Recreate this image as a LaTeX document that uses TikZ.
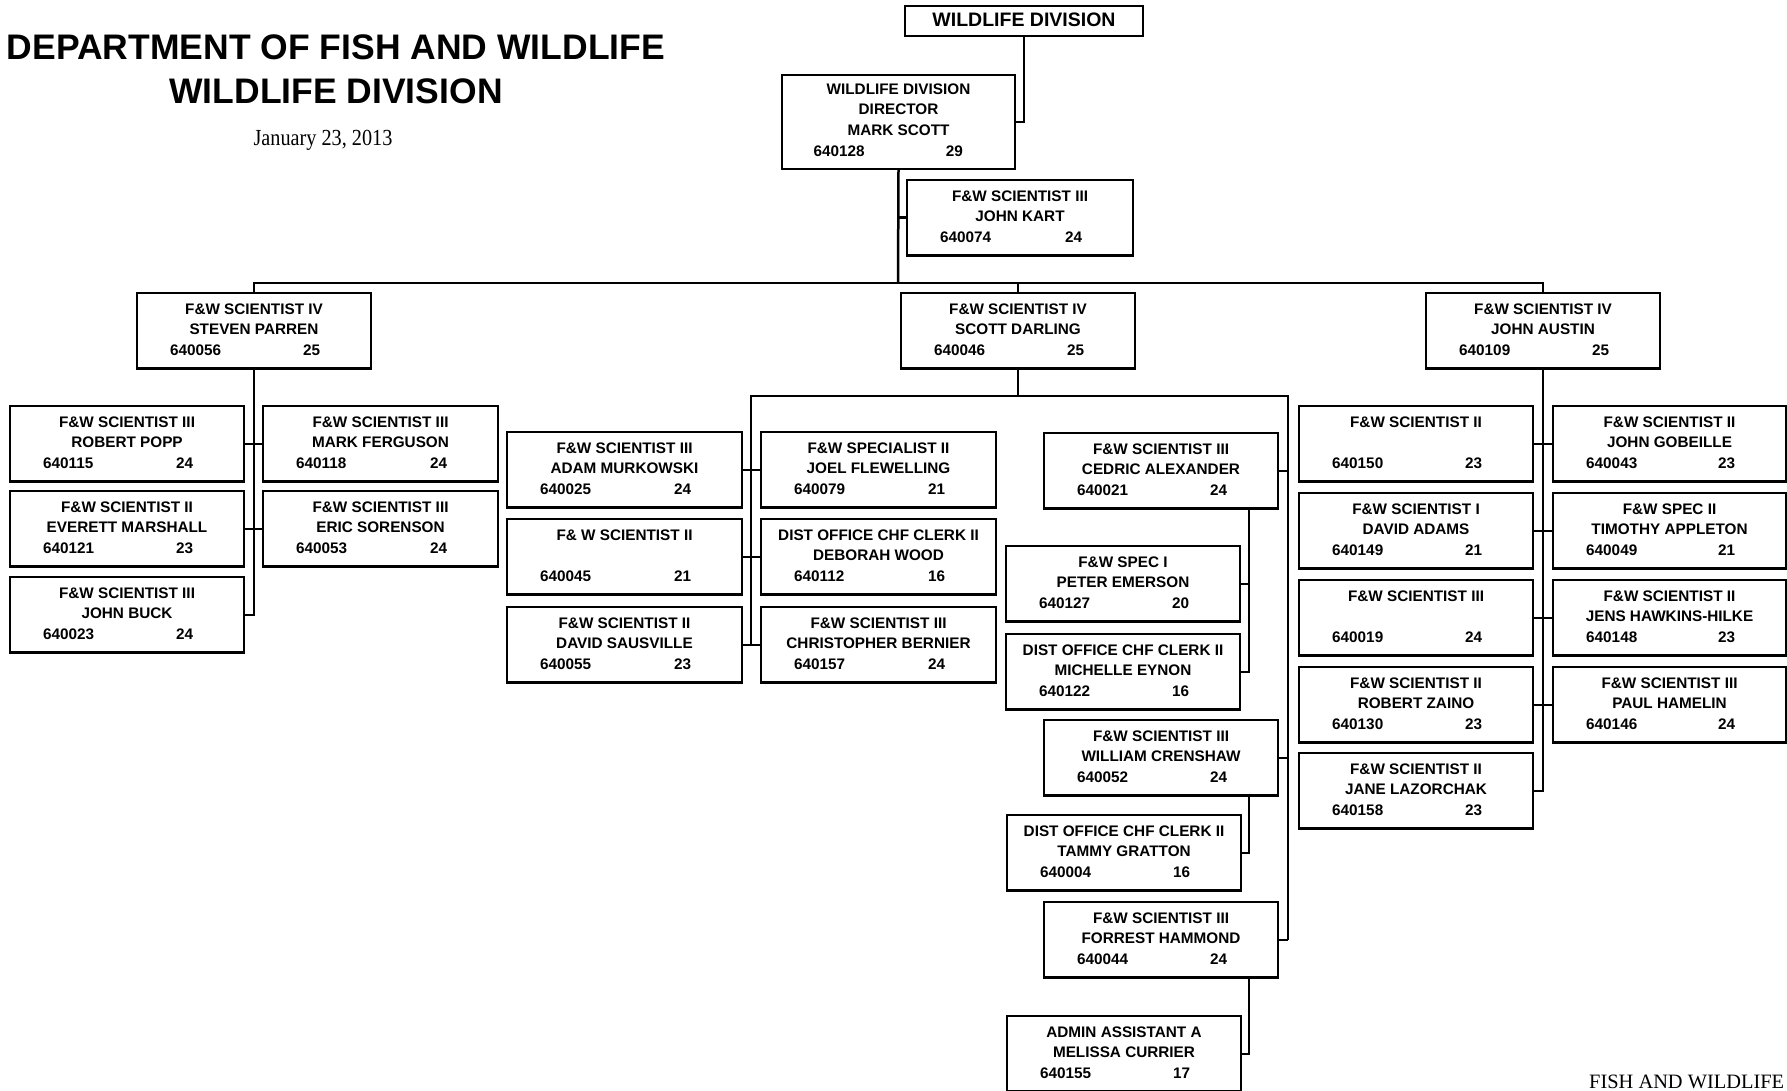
\documentclass[tikz,border=0pt]{standalone}
\usepackage{fontspec}
\setmainfont{Liberation Sans}
\newfontfamily\datefont{Liberation Serif}

\tikzset{
  post/.style={draw,line width=2.3pt,inner sep=0pt,outer sep=0pt,anchor=north west,minimum height=75.5pt},
  txt/.style={inner sep=0pt,anchor=base,font=\fontsize{15.3}{18}\selectfont\bfseries},
  wire/.style={line width=2.5pt},
}

% one position box: name, x, y, width, title, person, number, grade
\newcommand{\jobbox}[8]{%
  \node[post,minimum width=#4pt] (#1) at (#2,#3) {};
  \node[txt] (#1-t) at ([yshift=-21.3pt]#1.north) {#5};
  \node[txt] (#1-n) at ([yshift=-41.7pt]#1.north) {#6};
  \node[txt,anchor=base west] (#1-p) at ([xshift=33pt,yshift=-62.3pt]#1.north west) {#7};
  \node[txt,anchor=base west] (#1-g) at ([xshift=#4pt-68pt,yshift=-62.3pt]#1.north west) {#8};
}

\begin{document}
\begin{tikzpicture}[x=1pt,y=-1pt]
  \useasboundingbox (0,0) rectangle (1787,1091);
  \pgfmathsetmacro\bw{234}   % usual box width

% heading at left
  \node[inner sep=0pt,anchor=base,font=\fontsize{35.5}{40}\selectfont\bfseries] (head) at (336,59.3) {DEPARTMENT OF FISH AND WILDLIFE};
  \node[inner sep=0pt,anchor=base,font=\fontsize{35.5}{40}\selectfont\bfseries] (subhead) at (336,104) {WILDLIFE DIVISION};
  \node[inner sep=0pt,anchor=base,font=\datefont\fontsize{23}{26}\selectfont] (date) at (323,146) {\scalebox{0.88}[1]{January 23, 2013}};
  \node[inner sep=0pt,anchor=base west,font=\datefont\fontsize{20.4}{24}\selectfont] (foot) at (1589,1088.5) {FISH AND WILDLIFE};

% division and director
  \node[post,minimum width=238pt,minimum height=30pt] (division) at (905,6) {};
  \node[inner sep=0pt,anchor=base,font=\fontsize{19.5}{22}\selectfont\bfseries] (division-t) at (1024,26.7) {WILDLIFE DIVISION};
  \node[post,minimum width=233pt,minimum height=94pt] (director) at (782,75) {};
  \node[txt] (director-t) at ([yshift=-20pt]director.north) {WILDLIFE DIVISION};
  \node[txt] (director-u) at ([yshift=-40pt]director.north) {DIRECTOR};
  \node[txt] (director-n) at ([yshift=-61pt]director.north) {MARK SCOTT};
  \node[txt,anchor=base west] (director-p) at ([xshift=31.3pt,yshift=-81.7pt]director.north west) {640128};
  \node[txt,anchor=base west] (director-g) at ([xshift=163.7pt,yshift=-81.7pt]director.north west) {29};
  \jobbox{kart}{907}{180}{226}{F\&W SCIENTIST III}{JOHN KART}{640074}{24}
  \coordinate (bus) at (898,283);

  \draw[wire] (division.south) |- (director.east);
  \draw[wire] (director.south) -- (bus);
  \draw[wire] (kart.west) -- (kart.west -| director.south);

% second level
  \jobbox{parren}{137}{293}{\bw}{F\&W SCIENTIST IV}{STEVEN PARREN}{640056}{25}
  \jobbox{darling}{901}{293}{\bw}{F\&W SCIENTIST IV}{SCOTT DARLING}{640046}{25}
  \jobbox{austin}{1426}{293}{\bw}{F\&W SCIENTIST IV}{JOHN AUSTIN}{640109}{25}
  \draw[wire] (parren.north) -- (parren.north |- bus) -- (austin.north |- bus) -- (austin.north);
  \draw[wire] (darling.north) -- (darling.north |- bus);

% parren group
  \jobbox{popp}{10}{406}{\bw}{F\&W SCIENTIST III}{ROBERT POPP}{640115}{24}
  \jobbox{ferguson}{263}{406}{235}{F\&W SCIENTIST III}{MARK FERGUSON}{640118}{24}
  \jobbox{marshall}{10}{491}{\bw}{F\&W SCIENTIST II}{EVERETT MARSHALL}{640121}{23}
  \jobbox{sorenson}{263}{491}{235}{F\&W SCIENTIST III}{ERIC SORENSON}{640053}{24}
  \jobbox{buck}{10}{577}{\bw}{F\&W SCIENTIST III}{JOHN BUCK}{640023}{24}
  \draw[wire] (parren.south) |- (buck.east);
  \draw[wire] (popp.east) -- (ferguson.west);
  \draw[wire] (marshall.east) -- (sorenson.west);

% darling group, left side
  \coordinate (dl) at (751,396);
  \coordinate (dr) at (1288,396);
  \jobbox{murkowski}{507}{432}{235}{F\&W SCIENTIST III}{ADAM MURKOWSKI}{640025}{24}
  \jobbox{flewelling}{761}{432}{235}{F\&W SPECIALIST II}{JOEL FLEWELLING}{640079}{21}
  \jobbox{vacantA}{507}{519}{235}{F\& W SCIENTIST II}{}{640045}{21}
  \jobbox{wood}{761}{519}{235}{DIST OFFICE CHF CLERK II}{DEBORAH WOOD}{640112}{16}
  \jobbox{sausville}{507}{607}{235}{F\&W SCIENTIST II}{DAVID SAUSVILLE}{640055}{23}
  \jobbox{bernier}{761}{607}{235}{F\&W SCIENTIST III}{CHRISTOPHER BERNIER}{640157}{24}
  \draw[wire] (darling.south) -- (darling.south |- dl);
  \draw[wire] (murkowski.east) -- (flewelling.west);
  \draw[wire] (vacantA.east) -- (wood.west);
  \draw[wire] (sausville.east) -- (bernier.west);

% darling group, right side
  \jobbox{alexander}{1044}{433}{\bw}{F\&W SCIENTIST III}{CEDRIC ALEXANDER}{640021}{24}
  \jobbox{emerson}{1006}{546}{\bw}{F\&W SPEC I}{PETER EMERSON}{640127}{20}
  \jobbox{eynon}{1006}{634}{\bw}{DIST OFFICE CHF CLERK II}{MICHELLE EYNON}{640122}{16}
  \jobbox{crenshaw}{1044}{720}{\bw}{F\&W SCIENTIST III}{WILLIAM CRENSHAW}{640052}{24}
  \jobbox{gratton}{1007}{815}{\bw}{DIST OFFICE CHF CLERK II}{TAMMY GRATTON}{640004}{16}
  \jobbox{hammond}{1044}{902}{\bw}{F\&W SCIENTIST III}{FORREST HAMMOND}{640044}{24}
  \jobbox{currier}{1007}{1016}{\bw}{ADMIN ASSISTANT A}{MELISSA CURRIER}{640155}{17}
  \draw[wire] (dl |- sausville.east) -- (dl) -- (dr) -- (dr |- hammond.east);
  \draw[wire] (alexander.east) -- (alexander.east -| dr);
  \draw[wire] (crenshaw.east) -- (crenshaw.east -| dr);
  \draw[wire] (hammond.east) -- (hammond.east -| dr);
  \coordinate (asub) at ([xshift=-29pt]alexander.south east);
  \coordinate (csub) at ([xshift=-29pt]crenshaw.south east);
  \coordinate (hsub) at ([xshift=-29pt]hammond.south east);
  \draw[wire] (asub) |- (eynon.east);
  \draw[wire] (emerson.east) -- (emerson.east -| asub);
  \draw[wire] (csub) |- (gratton.east);
  \draw[wire] (hsub) |- (currier.east);

% austin group
  \jobbox{vacantB}{1299}{406}{\bw}{F\&W SCIENTIST II}{}{640150}{23}
  \jobbox{gobeille}{1553}{406}{233}{F\&W SCIENTIST II}{JOHN GOBEILLE}{640043}{23}
  \jobbox{adams}{1299}{493}{\bw}{F\&W SCIENTIST I}{DAVID ADAMS}{640149}{21}
  \jobbox{appleton}{1553}{493}{233}{F\&W SPEC II}{TIMOTHY APPLETON}{640049}{21}
  \jobbox{vacantC}{1299}{580}{\bw}{F\&W SCIENTIST III}{}{640019}{24}
  \jobbox{hawkins}{1553}{580}{233}{F\&W SCIENTIST II}{JENS HAWKINS-HILKE}{640148}{23}
  \jobbox{zaino}{1299}{667}{\bw}{F\&W SCIENTIST II}{ROBERT ZAINO}{640130}{23}
  \jobbox{hamelin}{1553}{667}{233}{F\&W SCIENTIST III}{PAUL HAMELIN}{640146}{24}
  \jobbox{lazorchak}{1299}{753}{\bw}{F\&W SCIENTIST II}{JANE LAZORCHAK}{640158}{23}
  \draw[wire] (austin.south) |- (lazorchak.east);
  \draw[wire] (vacantB.east) -- (gobeille.west);
  \draw[wire] (adams.east) -- (appleton.west);
  \draw[wire] (vacantC.east) -- (hawkins.west);
  \draw[wire] (zaino.east) -- (hamelin.west);

\end{tikzpicture}
\end{document}
